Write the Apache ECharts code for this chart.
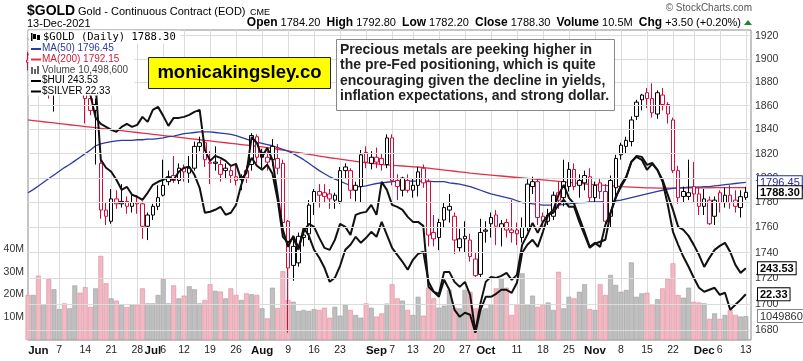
<!DOCTYPE html>
<html><head><meta charset="utf-8">
<script src="https://cdn.jsdelivr.net/npm/echarts@6/dist/echarts.min.js"></script>
<style>html,body{margin:0;padding:0;background:#fff}#c{width:803px;height:361px}</style>
</head><body><div id="c"></div>
<script>
// ---------- DATA ----------
const tradingDays = [
  ['2021-05', [27, 28]],
  ['2021-06', [1, 2, 3, 4, 7, 8, 9, 10, 11, 14, 15, 16, 17, 18, 21, 22, 23, 24, 25, 28, 29, 30]],
  ['2021-07', [1, 2, 6, 7, 8, 9, 12, 13, 14, 15, 16, 19, 20, 21, 22, 23, 26, 27, 28, 29, 30]],
  ['2021-08', [2, 3, 4, 5, 6, 9, 10, 11, 12, 13, 16, 17, 18, 19, 20, 23, 24, 25, 26, 27, 30, 31]],
  ['2021-09', [1, 2, 3, 7, 8, 9, 10, 13, 14, 15, 16, 17, 20, 21, 22, 23, 24, 27, 28, 29, 30]],
  ['2021-10', [1, 4, 5, 6, 7, 8, 11, 12, 13, 14, 15, 18, 19, 20, 21, 22, 25, 26, 27, 28, 29]],
  ['2021-11', [1, 2, 3, 4, 5, 8, 9, 10, 11, 12, 15, 16, 17, 18, 19, 22, 23, 24, 26, 29, 30]],
  ['2021-12', [1, 2, 3, 6, 7, 8, 9, 10, 13]]
];
const priorClose = 1901;
const open = [1899,1897,1903,1900,1909,1873,1892,1899,1894,1897,1899,1879,1866,1856,1812,1774,1765,1783,1779,1781,
  1777,1780,1779,1761,1770,1777,1786,1797,1802,1798,1808,1804,1808,1826,1829,1813,1812,1811,1808,1806,
  1801,1799,1806,1811,1834,1817,1817,1815,1816,1812,1765,1730,1732,1752,1755,1780,1789,1788,1787,1782,
  1781,1806,1806,1790,1793,1821,1812,1817,1816,1811,1833,1798,1790,1798,1790,1794,1808,1797,1756,1752,
  1766,1774,1769,1744,1751,1750,1735,1723,1757,1763,1770,1760,1764,1758,1758,1752,1760,1793,1797,1769,
  1765,1769,1788,1784,1793,1807,1794,1796,1801,1784,1796,1789,1769,1792,1819,1826,1830,1851,1865,1871,
  1866,1853,1869,1861,1848,1806,1789,1785,1793,1787,1777,1782,1769,1788,1780,1786,1782,1776,1784.2];
const high = [1906,1913,1917,1912,1910,1895,1904,1905,1902,1904,1900,1880,1870,1866,1815,1780,1791,1790,1795,1785,
  1786,1786,1781,1772,1779,1794,1815,1806,1818,1812,1811,1818,1830,1834,1831,1822,1826,1815,1812,1810,
  1812,1803,1810,1837,1836,1824,1822,1832,1828,1815,1766,1751,1756,1759,1782,1791,1795,1795,1791,1788,
  1809,1812,1808,1797,1823,1826,1822,1825,1820,1836,1836,1803,1801,1803,1800,1809,1811,1799,1770,1767,
  1780,1787,1772,1759,1765,1755,1740,1767,1765,1772,1774,1766,1767,1782,1764,1768,1799,1801,1800,1772,
  1775,1789,1797,1815,1813,1812,1803,1806,1808,1797,1800,1795,1802,1819,1829,1834,1851,1865,1870,1875,
  1879,1873,1875,1863,1850,1810,1793,1815,1813,1793,1791,1785,1785,1790,1792,1794,1790,1790,1792.8];
const low = [1890,1893,1896,1896,1866,1855,1890,1887,1885,1885,1870,1845,1852,1811,1767,1762,1763,1775,1776,1771,
  1772,1771,1751,1750,1766,1774,1785,1794,1796,1795,1797,1796,1806,1822,1809,1795,1806,1797,1799,1796,
  1794,1790,1796,1806,1812,1808,1806,1810,1803,1762,1678,1718,1729,1745,1750,1770,1776,1780,1775,1775,
  1779,1800,1783,1781,1780,1808,1807,1808,1806,1808,1794,1782,1785,1788,1784,1785,1792,1745,1745,1742,
  1760,1764,1739,1741,1740,1733,1721,1721,1748,1752,1746,1745,1752,1748,1746,1748,1757,1787,1762,1760,
  1762,1766,1775,1777,1789,1790,1784,1790,1780,1780,1783,1760,1760,1785,1815,1820,1826,1848,1856,1858,
  1850,1849,1856,1845,1804,1779,1780,1782,1780,1770,1770,1762,1762,1772,1776,1775,1772,1768,1782.2];
const close = [1897,1903,1900,1909,1873,1892,1899,1894,1897,1899,1879,1866,1856,1861,1774,1769,1783,1779,1781,1777,
  1780,1779,1761,1770,1777,1784,1794,1801,1798,1808,1805,1808,1826,1829,1815,1812,1813,1803,1806,1802,
  1798,1801,1800,1835,1817,1821,1813,1826,1808,1764,1728,1745,1753,1754,1778,1789,1786,1785,1783,1786,
  1806,1809,1790,1794,1819,1813,1817,1813,1811,1833,1798,1793,1800,1790,1794,1805,1796,1754,1751,1764,
  1776,1777,1750,1751,1753,1737,1722,1756,1758,1768,1761,1763,1758,1756,1755,1760,1795,1797,1768,1765,
  1770,1786,1782,1797,1807,1793,1798,1802,1784,1794,1789,1765,1798,1816,1827,1831,1848,1863,1869,1866,
  1854,1871,1861,1853,1806,1784,1785,1788,1787,1777,1783,1763,1782,1780,1786,1780,1777,1784.8,1788.3];
// volume in millions of contracts
const volume = [19.8,19.8,28.3,15.4,26.8,22.3,13.6,16.1,13.9,24.0,20.8,23.2,14.5,22.7,37.0,24.9,18.3,17.3,15.4,14.5,
  15.4,15.4,22.7,16.1,16.1,19.8,26.8,16.1,24.0,18.3,19.5,23.6,22.3,16.1,17.6,24.5,21.6,21.3,18.3,22.7,
  19.8,17.6,20.5,20.1,19.8,13.9,9.5,23.0,14.0,30.3,17.6,16.8,12.8,13.2,12.8,13.6,13.2,14.2,9.8,14.6,
  10.7,15.4,13.2,11.0,9.8,16.1,14.2,10.3,11.7,16.0,24.5,18.3,17.3,13.2,11.0,19.0,10.7,23.0,18.3,14.2,
  15.1,22.0,14.2,13.9,22.0,21.2,13.9,13.2,13.9,15.7,22.7,27.1,23.0,11.0,15.7,29.3,15.7,19.5,14.6,15.7,
  16.5,13.2,30.0,13.9,19.0,18.3,21.2,24.5,13.6,13.2,24.5,19.8,28.6,24.2,21.2,22.0,34.1,19.0,20.5,20.8,
  15.7,17.9,22.7,27.0,33.7,19.8,18.6,23.0,16.8,16.5,16.1,9.3,11.7,9.3,11.0,13.2,11.0,10.3,10.4986];
const hui = [328.9,330.1,330.9,328.9,326.1,327.7,328.9,327.7,328.1,326.9,323.7,318.9,312.9,303.7,301.3,300.1,298.9,298.1,300.1,301.3,
  300.1,300.9,304.1,302.1,306.9,308.1,304.5,300.5,303.7,303.7,304.1,304.9,306.1,306.9,290.9,286.5,288.5,287.7,286.5,284.5,
  285.3,278.9,281.7,296.1,293.7,288.1,291.7,286.9,272.9,258.9,252.1,256.5,251.7,258.1,261.3,260.1,255.7,251.7,250.9,254.9,
  261.3,260.1,256.9,264.9,265.7,266.1,268.9,264.9,278.1,274.9,268.9,268.1,266.9,264.1,262.1,262.1,260.5,236.1,234.1,233.3,
  242.1,242.1,238.1,236.1,238.1,232.9,218.1,229.6,238.1,240.1,239.7,240.5,241.7,238.9,240.9,252.9,256.9,261.7,257.7,262.1,
  264.9,266.9,272.9,276.9,271.7,269.3,263.7,258.1,252.1,253.7,252.1,260.9,265.7,271.7,276.9,280.1,286.1,288.5,288.1,284.9,
  285.7,282.9,278.9,272.9,266.9,260.1,258.9,256.5,252.9,248.9,244.1,247.7,250.9,252.5,253.7,250.1,244.9,241.7,243.53];
const silver = [27.42,27.46,27.52,27.42,27.26,27.32,27.42,27.36,27.38,27.32,27.22,27.12,26.98,26.52,25.02,24.86,24.78,24.62,24.42,24.48,
  24.32,24.28,24.22,24.36,24.52,24.58,24.62,24.68,24.62,24.78,24.86,24.88,24.72,24.46,23.96,23.98,24.02,24.08,23.92,23.96,
  24.12,24.52,24.82,25.06,24.90,24.82,24.92,24.74,24.22,23.48,23.36,23.46,23.22,23.66,23.50,23.22,23.06,22.86,22.58,22.66,
  22.90,23.22,23.32,23.48,23.36,23.46,23.58,23.48,23.78,23.52,23.26,23.12,22.98,22.82,23.02,23.14,23.18,22.58,22.38,22.28,
  22.62,22.42,22.02,21.88,21.96,21.92,21.56,22.02,22.28,22.28,22.34,22.42,22.42,22.36,22.56,23.16,23.32,23.42,23.28,23.58,
  23.92,23.96,24.12,24.22,24.08,24.08,23.78,23.52,23.26,23.34,23.38,23.42,23.96,24.28,24.48,24.66,24.98,25.08,25.02,24.82,
  24.94,24.82,24.58,24.12,23.58,23.32,23.08,22.88,22.66,22.46,22.38,22.42,22.46,22.32,22.36,22.02,22.12,22.22,22.33];
const ma50 = [1788.0,1790.5,1793.5,1796.5,1799.5,1802.5,1805.5,1808.5,1811.0,1814.0,1817.0,1820.0,1823.0,1826.5,1828.0,1829.0,1830.0,1830.5,1831.0,1831.0,
  1831.0,1831.5,1831.5,1832.0,1832.0,1832.5,1833.0,1834.0,1834.5,1835.5,1836.5,1837.0,1837.5,1838.0,1838.0,1838.0,1837.5,1837.0,1836.5,1836.0,
  1835.0,1833.5,1832.0,1830.5,1829.5,1828.5,1827.5,1826.5,1825.0,1823.5,1822.0,1820.0,1817.5,1815.0,1812.0,1809.0,1806.0,1803.5,1801.0,1799.0,
  1797.5,1795.5,1794.0,1793.0,1793.0,1793.5,1794.5,1795.5,1796.0,1796.5,1797.0,1797.5,1797.5,1797.5,1797.5,1797.5,1797.5,1797.5,1797.0,1797.0,
  1797.0,1796.0,1795.5,1795.0,1794.0,1793.0,1791.5,1790.0,1788.5,1787.0,1786.0,1785.0,1784.0,1783.0,1781.5,1780.0,1779.5,1779.0,1778.5,1778.0,
  1778.0,1778.0,1778.0,1778.5,1779.0,1779.5,1780.0,1780.0,1780.5,1780.5,1780.5,1781.0,1781.0,1781.5,1782.0,1783.0,1784.0,1785.0,1786.0,1787.0,
  1788.0,1789.0,1790.0,1791.0,1791.5,1792.0,1792.0,1792.5,1792.5,1792.5,1793.0,1793.0,1793.5,1794.0,1794.5,1795.0,1795.5,1796.0,1796.45];
const ma200 = [1848.0,1847.5,1847.0,1846.5,1846.0,1845.5,1845.0,1844.5,1844.0,1843.5,1843.0,1842.5,1842.0,1841.5,1841.0,1840.5,1840.0,1839.5,1839.0,1838.5,
  1838.0,1837.5,1837.0,1836.5,1836.0,1835.5,1835.0,1834.5,1834.0,1833.5,1833.0,1832.5,1832.0,1831.5,1831.0,1830.5,1830.0,1829.5,1829.0,1828.5,
  1828.0,1827.5,1827.0,1826.5,1826.0,1825.5,1825.0,1824.3,1823.6,1822.9,1822.2,1821.5,1820.8,1820.1,1819.4,1818.7,1818.0,1817.3,1816.6,1816.0,
  1815.4,1814.8,1814.2,1813.6,1813.0,1812.5,1812.0,1811.5,1811.0,1810.7,1810.4,1810.1,1809.8,1809.5,1809.2,1809.0,1808.5,1808.0,1807.5,1807.0,
  1806.5,1806.0,1805.5,1805.0,1804.5,1804.0,1803.6,1803.2,1802.8,1802.4,1802.0,1801.6,1801.2,1800.8,1800.4,1800.0,1799.6,1799.2,1798.8,1798.4,
  1798.0,1797.6,1797.2,1796.8,1796.4,1796.0,1795.6,1795.2,1794.8,1794.5,1794.2,1793.9,1793.6,1793.3,1793.0,1792.8,1792.6,1792.4,1792.2,1792.0,
  1791.9,1791.8,1791.8,1791.8,1791.8,1791.8,1791.9,1791.9,1792.0,1792.0,1792.0,1792.0,1792.1,1792.1,1792.1,1792.1,1792.2,1792.2,1792.15];
const priceTicks = [1680, 1700, 1720, 1740, 1760, 1780, 1800, 1820, 1840, 1860, 1880, 1900, 1920];
const volumeTicks = [10, 20, 30, 40];
const xTickDates = ['2021-06-01','2021-06-07','2021-06-14','2021-06-21','2021-06-28','2021-07-01','2021-07-06','2021-07-12','2021-07-19','2021-07-26',
  '2021-08-02','2021-08-09','2021-08-16','2021-08-23','2021-09-01','2021-09-07','2021-09-13','2021-09-20','2021-09-27','2021-10-01',
  '2021-10-11','2021-10-18','2021-10-25','2021-11-01','2021-11-08','2021-11-15','2021-11-22','2021-12-01','2021-12-06','2021-12-13'];
const xTickTexts = ['Jun','7','14','21','28','Jul','6','12','19','26','Aug','9','16','23','Sep','7','13','20','27','Oct',
  '11','18','25','Nov','8','15','22','Dec','6','13'];
const gridDates = ['2021-06-01','2021-06-07','2021-06-14','2021-06-21','2021-06-28','2021-07-06','2021-07-12','2021-07-19','2021-07-26',
  '2021-08-02','2021-08-09','2021-08-16','2021-08-23','2021-08-30','2021-09-07','2021-09-13','2021-09-20','2021-09-27','2021-10-04',
  '2021-10-11','2021-10-18','2021-10-25','2021-11-01','2021-11-08','2021-11-15','2021-11-22','2021-11-29','2021-12-06','2021-12-13'];

// ---------- BUILD ----------
const dates = [];
tradingDays.forEach(([m, ds]) => ds.forEach(d => dates.push(m + '-' + String(d).padStart(2, '0'))));
const categories = dates.concat(['']);
const N = close.length;
const RED = '#d6093b', BLK = '#000';
const upDay = close.map((c, i) => c >= (i ? close[i - 1] : priorClose));

const candleData = close.map((c, i) => {
  const col = upDay[i] ? BLK : RED;
  return { value: [open[i], c, low[i], high[i]],
    itemStyle: { color: '#fff', color0: col, borderColor: col, borderColor0: col, borderWidth: 1 } };
});
const volData = volume.map((v, i) => ({ value: v,
  itemStyle: upDay[i] ? { color: '#bfbfbf', borderColor: '#9d9d9d', borderWidth: 0.6 }
                      : { color: '#f2b8c3', borderColor: '#d98e9e', borderWidth: 0.6 } }));

const tickMap = {}; xTickDates.forEach((d, k) => tickMap[d] = xTickTexts[k]);
const gridSet = new Set(gridDates);
const FONT = 'Liberation Sans, Arial, sans-serif';
const last = N - 1;
const fmt2 = v => v.toFixed(2);

function tag(text, yValue, color, bold, border) {
  return { silent: true, symbol: 'none', animation: false,
    lineStyle: { color: 'rgba(0,0,0,0)', width: 0 },
    label: { show: true, position: 'end', distance: 7, formatter: () => '{a|' + text + '}',
      rich: { a: { color: color, fontWeight: bold ? 'bold' : 'normal', fontSize: 11, fontFamily: FONT,
        backgroundColor: '#fff', borderColor: border, borderWidth: 1, padding: [1, 2, 0, 2] } } },
    data: [{ yAxis: yValue }] };
}
const maTag = tag(fmt2(ma50[last]), ma50[last], '#2a2a9a', false, '#2a2a9a');
const clTag = tag(fmt2(close[last]), close[last], '#000', true, '#000');
const huiTag = tag(fmt2(hui[last]), hui[last], '#000', true, '#000');
const agTag = tag(fmt2(silver[last]), silver[last], '#000', true, '#000');
const volTag = tag(String(Math.round(volume[last] * 1e6)).slice(0, 7), volume[last], '#333', false, '#888');

const chg = close[last] - close[last - 1];
const pct = chg / close[last - 1] * 100;

const chart = echarts.init(document.getElementById('c'), null, { renderer: 'canvas' });
chart.setOption({
  animation: false,
  backgroundColor: '#fff',
  grid: { left: 28, right: 52, top: 30, bottom: 21, show: true, borderColor: '#8a8a8a', borderWidth: 1, backgroundColor: '#fff' },
  xAxis: {
    type: 'category', data: categories, boundaryGap: false,
    axisLine: { show: false }, axisTick: { show: false },
    axisLabel: {
      interval: (i, v) => tickMap[v] !== undefined, margin: 5,
      formatter: v => { const t = tickMap[v]; return /^[A-Z]/.test(t) ? '{m|' + t + '}' : '{d|' + t + '}'; },
      rich: { m: { fontWeight: 'bold', fontSize: 11.5, color: '#111', fontFamily: FONT },
              d: { fontSize: 10.5, color: '#222', fontFamily: FONT } }
    },
    splitLine: { show: true, interval: (i, v) => gridSet.has(v), lineStyle: { color: '#dcdcdc', width: 1 } }
  },
  yAxis: [
    { type: 'log', logBase: 10, min: 1672.45, max: 1924.97, position: 'right', show: false },
    { type: 'value', min: 0, max: 136.3, interval: 10, position: 'left',
      axisLine: { show: false }, axisTick: { show: false }, splitLine: { show: false },
      axisLabel: { margin: 4, fontSize: 10.5, color: '#333', fontFamily: FONT,
        formatter: v => volumeTicks.indexOf(v) >= 0 ? v + 'M' : '' } },
    { type: 'value', min: 214.85, max: 338.85, show: false },
    { type: 'value', min: 21.416, max: 27.616, show: false }
  ],
  series: [
    { type: 'line', name: 'grid', data: [], yAxisIndex: 0, z: 0, silent: true,
      markLine: { silent: true, symbol: 'none', animation: false,
        lineStyle: { color: '#dcdcdc', width: 1, type: 'solid' },
        label: { show: true, position: 'end', distance: 4, formatter: p => String(p.value),
          color: '#333', fontSize: 10.5, fontFamily: FONT },
        data: priceTicks.map(v => ({ yAxis: v })) } },
    { type: 'bar', name: 'Volume', data: volData, yAxisIndex: 1, barCategoryGap: '6%', z: 1 },
    { type: 'line', name: 'MA(200)', data: ma200, yAxisIndex: 0, symbol: 'none', z: 2,
      lineStyle: { color: '#e0304a', width: 1.3 } },
    { type: 'line', name: 'MA(50)', data: ma50, yAxisIndex: 0, symbol: 'none', z: 2,
      lineStyle: { color: '#2f3a9e', width: 1.3 } },
    { type: 'candlestick', name: '$GOLD', data: candleData, yAxisIndex: 0, barWidth: 4, z: 3 },
    { type: 'line', name: '$HUI', data: hui, yAxisIndex: 2, symbol: 'none', z: 4,
      lineStyle: { color: '#111', width: 2 } },
    { type: 'line', name: '$SILVER', data: silver, yAxisIndex: 3, symbol: 'none', z: 4,
      lineStyle: { color: '#111', width: 2 } },
    // value tags on the right edge
    { type: 'line', name: 'tagVol', data: [], yAxisIndex: 1, z: 10, silent: true, markLine: volTag },
    { type: 'line', name: 'tagMA', data: [], yAxisIndex: 0, z: 10, silent: true, markLine: maTag },
    { type: 'line', name: 'tagClose', data: [], yAxisIndex: 0, z: 11, silent: true, markLine: clTag },
    { type: 'line', name: 'tagHUI', data: [], yAxisIndex: 2, z: 10, silent: true, markLine: huiTag },
    { type: 'line', name: 'tagAG', data: [], yAxisIndex: 3, z: 10, silent: true, markLine: agTag }
  ],
  graphic: [
    // header
    { type: 'text', left: 27, top: 4, z: 100, style: { text: '$GOLD', font: 'bold 14px ' + FONT, fill: '#000' } },
    { type: 'text', left: 78, top: 6, z: 100, style: { text: 'Gold - Continuous Contract (EOD)', font: '11px ' + FONT, fill: '#000' } },
    { type: 'text', left: 250, top: 8, z: 100, style: { text: 'CME', font: '9px ' + FONT, fill: '#000' } },
    { type: 'text', left: 27, top: 18, z: 100, style: { text: '13-Dec-2021', font: '11px ' + FONT, fill: '#000' } },
    { type: 'text', right: 51, top: 3, z: 100, style: { text: '\u00a9 StockCharts.com', font: '10px ' + FONT, fill: '#555' } },
    { type: 'text', right: 803 - 741, top: 17, z: 100, style: {
      text: '{b|Open} ' + open[last].toFixed(2) + '  {b|High} ' + high[last].toFixed(2) + '  {b|Low} ' + low[last].toFixed(2) +
            '  {b|Close} ' + close[last].toFixed(2) + '  {b|Volume} ' + volume[last].toFixed(1) + 'M  {b|Chg} ' +
            (chg >= 0 ? '+' : '') + chg.toFixed(2) + ' (' + (pct >= 0 ? '+' : '') + pct.toFixed(2) + '%)',
      font: '11px ' + FONT, fill: '#000',
      rich: { b: { font: 'bold 12px ' + FONT, fill: '#000' } } } },
    { type: 'polygon', z: 100, shape: { points: [[744, 25], [752, 25], [748, 20]] }, style: { fill: '#1a8a2a' } },
    // legend box
    { type: 'rect', z: 90, shape: { x: 28.5, y: 30.5, width: 152, height: 13 }, style: { fill: '#fff' } },
    { type: 'rect', z: 90, shape: { x: 28.5, y: 30.5, width: 106, height: 65 }, style: { fill: '#fff' } },
    { type: 'rect', z: 100, shape: { x: 31, y: 33, width: 1.5, height: 8 }, style: { fill: '#000' } },
    { type: 'rect', z: 100, shape: { x: 33, y: 34, width: 3, height: 5 }, style: { fill: '#000' } },
    { type: 'rect', z: 100, shape: { x: 37, y: 35, width: 3, height: 5 }, style: { fill: '#000' } },
    { type: 'text', left: 43, top: 31.5, z: 100, style: { text: '$GOLD (Daily) ' + close[last].toFixed(2), font: '10.5px DejaVu Sans Mono', fill: '#000' } },
    { type: 'line', z: 100, shape: { x1: 31, y1: 49, x2: 41, y2: 49 }, style: { stroke: '#2f3a9e', lineWidth: 2 } },
    { type: 'text', left: 42, top: 43.5, z: 100, style: { text: 'MA(50) ' + ma50[last].toFixed(2), font: '10px ' + FONT, fill: '#2f3a9e' } },
    { type: 'line', z: 100, shape: { x1: 31, y1: 59.5, x2: 41, y2: 59.5 }, style: { stroke: '#e0304a', lineWidth: 2 } },
    { type: 'text', left: 42, top: 54, z: 100, style: { text: 'MA(200) ' + ma200[last].toFixed(2), font: '10px ' + FONT, fill: '#d0203a' } },
    { type: 'rect', z: 100, shape: { x: 31, y: 67, width: 2, height: 7 }, style: { fill: '#666' } },
    { type: 'rect', z: 100, shape: { x: 34, y: 69, width: 2, height: 5 }, style: { fill: '#666' } },
    { type: 'rect', z: 100, shape: { x: 37, y: 66, width: 2, height: 8 }, style: { fill: '#666' } },
    { type: 'text', left: 42, top: 65.5, z: 100, style: { text: 'Volume ' + Math.round(volume[last] * 1e6).toLocaleString('en-US'), font: '10px ' + FONT, fill: '#444' } },
    { type: 'line', z: 100, shape: { x1: 31, y1: 81, x2: 41, y2: 81 }, style: { stroke: '#000', lineWidth: 2 } },
    { type: 'text', left: 42, top: 75.5, z: 100, style: { text: '$HUI ' + hui[last].toFixed(2), font: '10px ' + FONT, fill: '#000' } },
    { type: 'line', z: 100, shape: { x1: 31, y1: 91.5, x2: 41, y2: 91.5 }, style: { stroke: '#000', lineWidth: 2 } },
    { type: 'text', left: 42, top: 86, z: 100, style: { text: '$SILVER ' + silver[last].toFixed(2), font: '10px ' + FONT, fill: '#000' } },
    // yellow box
    { type: 'rect', z: 100, shape: { x: 148.5, y: 57.5, width: 182, height: 31 }, style: { fill: '#ffff00', stroke: '#222', lineWidth: 1 } },
    { type: 'text', z: 101, x: 239.5, y: 73, style: { text: 'monicakingsley.co', font: 'bold 18.5px ' + FONT, fill: '#000', align: 'center', verticalAlign: 'middle' } },
    // annotation box
    { type: 'rect', z: 100, shape: { x: 336.5, y: 39.5, width: 278, height: 71 }, style: { fill: '#fff', stroke: '#888', lineWidth: 1 } },
    { type: 'text', z: 101, left: 340, top: 42, style: {
      text: 'Precious metals are peeking higher in\nthe pre-Fed positioning, which is quite\nencouraging given the decline in yields,\ninflation expectations, and strong dollar.',
      font: 'bold 14px ' + FONT, fill: '#222', lineHeight: 15.5 } }
  ]
});
</script>
</body></html>
